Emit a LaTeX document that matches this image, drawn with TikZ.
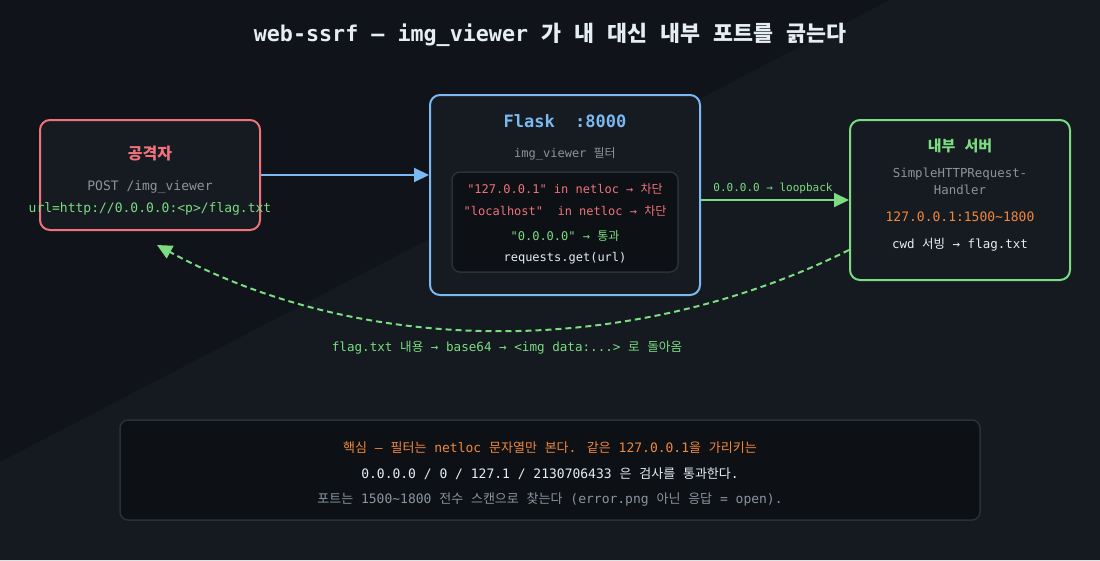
\documentclass[tikz,border=0pt]{standalone}
\usepackage{fontspec}
\setmainfont{DejaVu Sans Mono}[Ligatures=TeXOff]
\newfontfamily\krfont{Noto Sans CJK KR}
\newcommand{\K}[1]{{\krfont\spaceskip=0.602em\relax #1}}
\usetikzlibrary{arrows.meta,calc}
\definecolor{bgdark}{HTML}{10141A}
\definecolor{bglight}{HTML}{151920}
\definecolor{boxfill}{HTML}{161A21}
\definecolor{innerfill}{HTML}{0D1015}
\definecolor{innerline}{HTML}{2B3037}
\definecolor{cred}{HTML}{F0727A}
\definecolor{cblue}{HTML}{7AB9F2}
\definecolor{cgreen}{HTML}{7BDC82}
\definecolor{corange}{HTML}{F0883E}
\definecolor{cwhite}{HTML}{E6EDF3}
\definecolor{cgray}{HTML}{8B949E}
\begin{document}
\begin{tikzpicture}[x=1pt,y=-1pt,
  card/.style={draw, line width=2pt, rounded corners=10pt, fill=boxfill, inner sep=0pt},
  panel/.style={draw=innerline, line width=1.5pt, rounded corners=8pt, fill=innerfill, inner sep=0pt},
  txt/.style={inner sep=0pt, text height=1.05em, text depth=0em, anchor=center, font=\fontsize{#1}{#1}\selectfont},
  txt/.default=12,
  btxt/.style={inner sep=0pt, text height=1.05em, text depth=0em, anchor=center, font=\fontsize{#1}{#1}\selectfont\bfseries},
  arr/.style={line width=2pt, -{Triangle[length=15pt,width=14pt]}},
  retarr/.style={line width=2pt, dash pattern=on 6pt off 4pt, -{Triangle[length=15pt,width=14pt]}}
]
\useasboundingbox (0,0) rectangle (1100,560);
\fill[bgdark] (0,0) rectangle (1100,560);
\fill[bglight] (890,0) -- (1100,0) -- (1100,560) -- (0,560) -- (0,462) -- cycle;

% title
\node[btxt=21.7, text=cwhite] (title) at (550,36) {web-ssrf — img\_viewer \K{가 내 대신 내부 포트를 긁는다}};

% attacker
\node[card, draw=cred, minimum width=220pt, minimum height=110pt] (att) at (150,175) {};
\node[btxt=16, text=cred] (attT) at (150,154) {\K{공격자}};
\node[txt=13, text=cgray] (att1) at (150,185) {POST /img\_viewer};
\node[txt=13, text=cgreen] (att2) at (150,207) {url=http://0.0.0.0:<p>/flag.txt};

% flask
\node[card, draw=cblue, minimum width=270pt, minimum height=200pt] (flask) at (565,195) {};
\node[btxt=17, text=cblue] (flaskT) at (565,122) {Flask\ \ :8000};
\node[txt=12, text=cgray] (flask1) at (565,152) {img\_viewer \K{필터}};
\node[panel, minimum width=226pt, minimum height=100pt] (filter) at (565,222) {};
\node[txt=12, text=cred] (f1) at (565,188) {"127.0.0.1" in netloc → \K{차단}};
\node[txt=12, text=cred] (f2) at (565,210) {"localhost"\ \ in netloc → \K{차단}};
\node[txt=12, text=cgreen] (f3) at (565,235) {"0.0.0.0" → \K{통과}};
\node[txt=12, text=cwhite] (f4) at (565,256) {requests.get(url)};

% internal server
\node[card, draw=cgreen, minimum width=220pt, minimum height=160pt] (srv) at (960,200) {};
\node[btxt=15, text=cgreen] (srvT) at (960,146) {\K{내부 서버}};
\node[txt=12.4, text=cgray] (srv1) at (960,172) {SimpleHTTPRequest-};
\node[txt=12.4, text=cgray] (srv2) at (960,189) {Handler};
\node[txt=13, text=corange] (srv3) at (960,216) {127.0.0.1:1500\textasciitilde 1800};
\node[txt=12.5, text=cwhite] (srv4) at (960,243) {cwd \K{서빙} → flag.txt};

% connectors
\draw[arr, cblue] (att.east) -- (att.east -| flask.west);
\draw[arr, cgreen] (srv.west -| flask.east) -- (srv.west);
\node[txt=11, text=cgreen] (lbl1) at (773,186) {0.0.0.0 → loopback};

\coordinate (retEnd) at (157,245);
\draw[retarr, cgreen] ($(srv.west)+(0,50)$) .. controls (632,358) and (365,358) .. (retEnd);
\node[txt=12.6, text=cgreen] (lbl2) at (507,346) {flag.txt \K{내용} → base64 → <img data:...> \K{로 돌아옴}};

% bottom note
\node[panel, minimum width=860pt, minimum height=100pt] (note) at (550,470) {};
\node[txt=13, text=corange] (n1) at (550,447) {\K{핵심} — \K{필터는} netloc \K{문자열만 본다}. \K{같은} 127.0.0.1\K{을 가리키는}};
\node[txt=13, text=cwhite] (n2) at (550,473) {0.0.0.0 / 0 / 127.1 / 2130706433 \K{은 검사를 통과한다}.};
\node[txt=13, text=cgray] (n3) at (550,498) {\K{포트는} 1500\textasciitilde 1800 \K{전수 스캔으로 찾는다} (error.png \K{아닌 응답} = open).};
\end{tikzpicture}
\end{document}
